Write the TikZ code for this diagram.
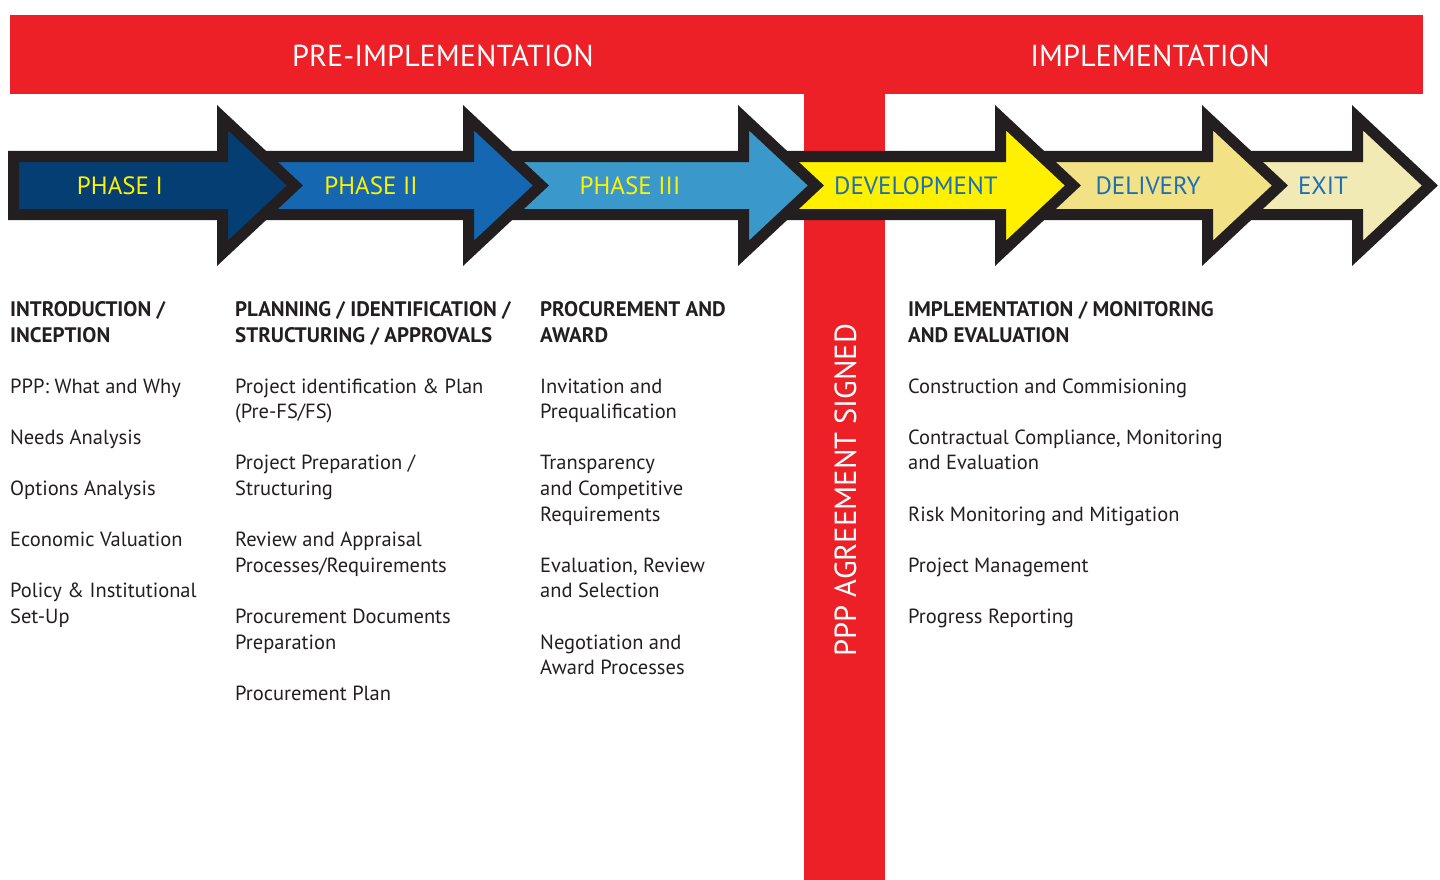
\documentclass[tikz,border=0pt]{standalone}
\usepackage{fontspec}
\setmainfont{PT Sans}
\definecolor{pred}{HTML}{ED2027}
\definecolor{pblack}{HTML}{231F20}
\definecolor{cI}{HTML}{053E72}
\definecolor{cII}{HTML}{1467B0}
\definecolor{cIII}{HTML}{3B98CB}
\definecolor{cDev}{HTML}{FFF000}
\definecolor{cDel}{HTML}{F3E285}
\definecolor{cExit}{HTML}{F2EAB5}
\definecolor{lblyel}{HTML}{FFF200}
\definecolor{lblblue}{HTML}{1B6FB5}
\tikzset{
  arrowshape/.style={draw=pblack, line width=11pt, miter limit=10, line join=miter},
  phaselbl/.style={anchor=base, inner sep=0pt, font=\fontsize{25}{28}\selectfont},
  toplbl/.style={anchor=base, inner sep=0pt, text=white, font=\fontsize{30.3}{34}\selectfont},
  body/.style={anchor=base west, inner sep=0pt, text=pblack, font=\fontsize{20.5}{25.6}\selectfont},
  head/.style={body, font=\fontsize{21}{25.6}\selectfont\bfseries},
}
\newcommand{\phasearrow}[3]{% #1 left x, #2 head back x, #3 colour
  \path[arrowshape, fill=#3] (#1+5.5,156.5) -- (#2+5.5,156.5) -- (#2+5.5,117.7)
    -- (#2+77.9,185.5) -- (#2+5.5,253.3) -- (#2+5.5,214.5) -- (#1+5.5,214.5) -- cycle;}
\begin{document}
\begin{tikzpicture}[x=1pt,y=-1pt]
\useasboundingbox (0,0) rectangle (1440,880);
\fill[white] (0,0) rectangle (1440,880);
% red T
\fill[pred] (10,15) rectangle (1423,94);
\fill[pred] (804,93) rectangle (885,880);
\node[toplbl] (pre) at (443,67) {PRE-IMPLEMENTATION};
\node[toplbl] (impl) at (1150,67) {IMPLEMENTATION};
\node[toplbl, rotate=90, font=\fontsize{30.5}{34}\selectfont] (signed) at (856,490) {PPP AGREEMENT SIGNED};
% arrows, right to left
\phasearrow{1222}{1352}{cExit}
\phasearrow{1015}{1202}{cDel}
\phasearrow{758}{995}{cDev}
\phasearrow{483}{738}{cIII}
\phasearrow{237}{463}{cII}
\phasearrow{8}{217}{cI}
\node[phaselbl, text=lblyel] (p1) at (120,194.5) {PHASE I};
\node[phaselbl, text=lblyel] (p2) at (371,194.5) {PHASE II};
\node[phaselbl, text=lblyel] (p3) at (630,194.5) {PHASE III};
\node[phaselbl, text=lblblue] (p4) at (916,194.5) {DEVELOPMENT};
\node[phaselbl, text=lblblue] (p5) at (1148,194.5) {DELIVERY};
\node[phaselbl, text=lblblue] (p6) at (1323,194.5) {EXIT};
% column 1
\node[head] (h1a) at (10,316.5) {INTRODUCTION /};
\node[head] (h1b) at (10,342) {INCEPTION};
\node[body] (a1) at (10,393) {PPP: What and Why};
\node[body] (a2) at (10,444.2) {Needs Analysis};
\node[body] (a3) at (10,495.4) {Options Analysis};
\node[body] (a4) at (10,546.6) {Economic Valuation};
\node[body] (a5) at (10,597.8) {Policy \& Institutional};
\node[body] (a5b) at (10,623.4) {Set-Up};
% column 2
\node[head] (h2a) at (235,316.5) {PLANNING / IDENTIFICATION /};
\node[head] (h2b) at (235,342) {STRUCTURING / APPROVALS};
\node[body] (b1) at (235,393) {Project identification \& Plan};
\node[body] (b1b) at (235,418.6) {(Pre-FS/FS)};
\node[body] (b2) at (235,469.8) {Project Preparation /};
\node[body] (b2b) at (235,495.4) {Structuring};
\node[body] (b3) at (235,546.6) {Review and Appraisal};
\node[body] (b3b) at (235,572.2) {Processes/Requirements};
\node[body] (b4) at (235,623.4) {Procurement Documents};
\node[body] (b4b) at (235,649) {Preparation};
\node[body] (b5) at (235,700.2) {Procurement Plan};
% column 3
\node[head] (h3a) at (540,316.5) {PROCUREMENT AND};
\node[head] (h3b) at (540,342) {AWARD};
\node[body] (c1) at (540,393) {Invitation and};
\node[body] (c1b) at (540,418.6) {Prequalification};
\node[body] (c2) at (540,469.8) {Transparency};
\node[body] (c2b) at (540,495.4) {and Competitive};
\node[body] (c2c) at (540,521) {Requirements};
\node[body] (c3) at (540,572.2) {Evaluation, Review};
\node[body] (c3b) at (540,597.8) {and Selection};
\node[body] (c4) at (540,649) {Negotiation and};
\node[body] (c4b) at (540,674.6) {Award Processes};
% column 4
\node[head] (h4a) at (908,316.5) {IMPLEMENTATION / MONITORING};
\node[head] (h4b) at (908,342) {AND EVALUATION};
\node[body] (d1) at (908,393) {Construction and Commisioning};
\node[body] (d2) at (908,444.2) {Contractual Compliance, Monitoring};
\node[body] (d2b) at (908,469.8) {and Evaluation};
\node[body] (d3) at (908,521) {Risk Monitoring and Mitigation};
\node[body] (d4) at (908,572.2) {Project Management};
\node[body] (d5) at (908,623.4) {Progress Reporting};
\end{tikzpicture}
\end{document}
